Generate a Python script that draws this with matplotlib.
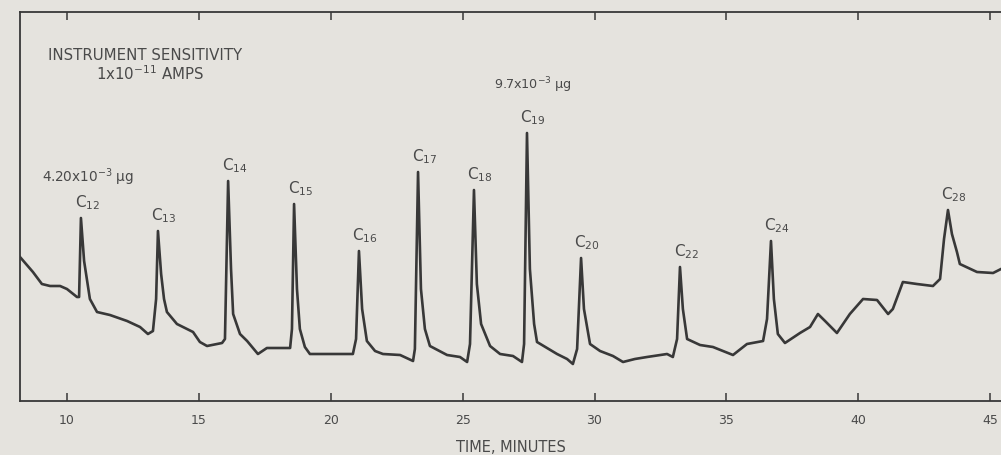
import numpy as np
import matplotlib
matplotlib.use("Agg")
import matplotlib.pyplot as plt

# detector trace (time in minutes, signal in chart units)
time_min = [8.22, 8.71, 9.05, 9.36, 9.74, 10.00, 10.38, 10.46, 10.53, 10.65,
            10.87, 11.14, 11.63, 12.28, 12.77, 13.07, 13.26, 13.38, 13.45, 13.57,
            13.68, 13.79, 14.17, 14.78, 15.04, 15.31, 15.88, 15.99, 16.11, 16.22,
            16.30, 16.56, 16.83, 17.24, 17.58, 18.46, 18.53, 18.61, 18.72, 18.83,
            19.02, 19.21, 20.84, 20.96, 21.07, 21.19, 21.37, 21.68, 21.98, 22.63,
            23.12, 23.19, 23.31, 23.42, 23.57, 23.76, 24.41, 24.90, 25.17, 25.28,
            25.43, 25.54, 25.70, 26.04, 26.42, 26.91, 27.25, 27.33, 27.44, 27.55,
            27.71, 27.82, 28.58, 28.96, 29.18, 29.34, 29.49, 29.60, 29.83, 30.21,
            30.70, 31.08, 31.53, 31.99, 32.75, 32.97, 33.13, 33.24, 33.35, 33.51,
            34.00, 34.49, 35.25, 35.78, 36.39, 36.54, 36.69, 36.80, 36.95, 37.22,
            37.79, 38.17, 38.47, 38.74, 39.19, 39.68, 40.18, 40.71, 41.13, 41.31,
            41.69, 42.22, 42.83, 43.10, 43.25, 43.40, 43.55, 43.74, 43.85, 44.50,
            45.11, 45.41]
signal = [144, 129, 117, 115, 115, 112, 104, 104, 183, 140,
          102, 89, 86, 80, 74, 67, 70, 102, 170, 127,
          102, 89, 77, 69, 59, 55, 58, 62, 220, 132,
          87, 67, 60, 47, 53, 53, 72, 197, 112, 72,
          54, 47, 47, 62, 150, 92, 60, 50, 47, 46,
          40, 52, 229, 112, 72, 55, 46, 44, 39, 57,
          211, 117, 77, 55, 47, 45, 39, 57, 268, 132,
          77, 59, 47, 42, 37, 52, 143, 92, 57, 50,
          45, 39, 42, 44, 47, 44, 62, 134, 92, 62,
          56, 54, 46, 57, 60, 82, 160, 102, 67, 58,
          68, 74, 87, 80, 68, 87, 102, 101, 87, 92,
          119, 117, 115, 122, 162, 191, 167, 149, 137, 129,
          128, 132]

# labelled n-alkane peaks
peak_names = ["12", "13", "14", "15", "16", "17", "18", "19", "20", "22", "24", "28"]
peak_times = [10.53, 13.45, 16.11, 18.61, 21.07, 23.31, 25.43, 27.44, 29.49, 33.24, 36.69, 43.40]

x_ticks = [10, 15, 20, 25, 30, 35, 40, 45]

paper = "#e5e3de"
ink = "#383838"
txt = "#4a4a4a"

fig = plt.figure(figsize=(10.01, 4.56), dpi=100, facecolor=paper)
ax = fig.add_axes([20 / 1001, 54 / 456, 981 / 1001, 389 / 456], facecolor=paper)

ax.plot(time_min, signal, color=ink, lw=1.9, solid_joinstyle="round")

t = np.array(time_min)
s = np.array(signal)
for name, pt in zip(peak_names, peak_times):
    near = np.abs(t - pt) < 0.3
    i = np.argmax(np.where(near, s, -1))
    ax.annotate("C$_{" + name + "}$", xy=(t[i], s[i]), xytext=(4.5, 11.5),
                textcoords="offset points", ha="center", va="center",
                fontsize=11, color=txt)

ax.text(12.96, 346, "INSTRUMENT SENSITIVITY", ha="center", va="center",
        fontsize=10.8, color=txt)
ax.text(13.15, 328, "1x10$^{-11}$ AMPS", ha="center", va="center",
        fontsize=10.8, color=txt)
ax.text(10.80, 225, "4.20x10$^{-3}$ μg", ha="center", va="center",
        fontsize=9.8, color=txt)
ax.text(27.67, 317, "9.7x10$^{-3}$ μg", ha="center", va="center",
        fontsize=9.2, color=txt)

ax.set_xlim(8.22, 45.41)
ax.set_ylim(0, 389)
ax.set_xticks(x_ticks)
ax.set_yticks([])
ax.tick_params(axis="x", direction="in", length=6, width=1.1, color=ink,
               top=True, labeltop=False, labelsize=9, labelcolor=txt, pad=9)
for side in ["left", "bottom", "top"]:
    ax.spines[side].set_color(ink)
    ax.spines[side].set_linewidth(1.3)
ax.spines["right"].set_visible(False)
ax.set_xlabel("TIME, MINUTES", fontsize=10.5, color=txt, labelpad=9)

fig.savefig("out.png", dpi=100, facecolor=paper)
